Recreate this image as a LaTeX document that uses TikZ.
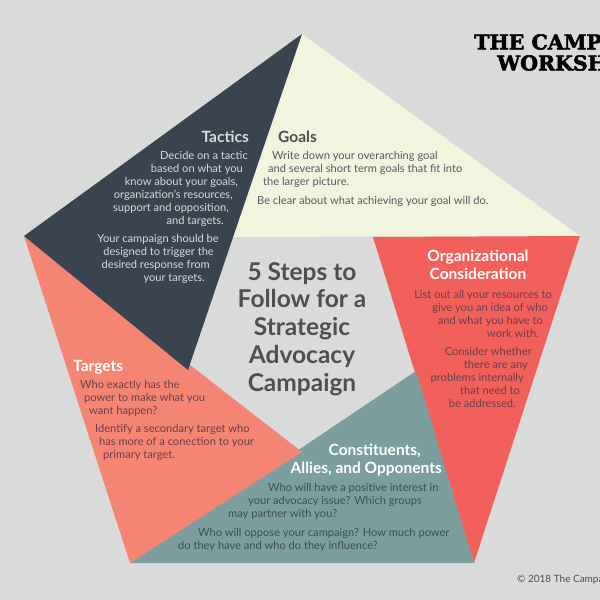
\documentclass[tikz,border=0pt]{standalone}
\usepackage{fontspec}
\setmainfont{Lato}
\newfontfamily\logofont[FakeBold=2.5]{DejaVu Serif}
\definecolor{cbg}{RGB}{217,219,219}
\definecolor{cgoals}{RGB}{241,245,222}
\definecolor{ctactics}{RGB}{58,67,80}
\definecolor{corg}{RGB}{242,96,91}
\definecolor{cteam}{RGB}{124,158,158}
\definecolor{ctargets}{RGB}{245,133,115}
\definecolor{ctext}{RGB}{77,79,80}
\definecolor{cgoalstext}{RGB}{84,90,98}
\definecolor{cwarm}{RGB}{108,62,76}
\definecolor{ccool}{RGB}{62,78,88}
\newcommand{\rind}[1]{\rule{#1}{0pt}}
\tikzset{
  heading/.style={inner sep=0pt,font=\fontsize{15.5}{18}\selectfont\bfseries},
  bodytext/.style={inner sep=0pt,font=\fontsize{11.1}{13}\selectfont},
  logotext/.style={inner sep=0pt,anchor=west,text=black,font=\logofont\fontsize{20.5}{22}\selectfont\bfseries},
}
\begin{document}
\begin{tikzpicture}[x=1pt,y=-1pt]
  \useasboundingbox (0,0) rectangle (600,600);
  \fill[cbg] (0,0) rectangle (600,600);

  \coordinate (top) at (302,34);
  \coordinate (left) at (24,236);
  \coordinate (right) at (580,236);
  \coordinate (botl) at (130,563);
  \coordinate (botr) at (474,563);
  \coordinate (ingoals) at (232,237);
  \coordinate (inorg) at (373,237);
  \coordinate (inteam) at (416,371);
  \coordinate (intargets) at (302,452);
  \coordinate (intactics) at (188,370);

  \fill[cgoals] (top) -- (right) -- (ingoals) -- cycle;
  \fill[corg] (right) -- (botr) -- (inorg) -- cycle;
  \fill[cteam] (botr) -- (botl) -- (inteam) -- cycle;
  \fill[ctargets] (botl) -- (left) -- (intargets) -- cycle;
  \fill[ctactics] (left) -- (top) -- (intactics) -- cycle;

  % tactics
  \node[heading,anchor=east,text=cbg] (tactics) at (249,137) {Tactics};
  \node[bodytext,anchor=north east,align=right,text=cbg] (tacticsa) at (248,151)
    {Decide on a tactic\\
     based on what you\rind{5pt}\\
     know about your goals,\rind{10pt}\\
     organization’s resources,\rind{15pt}\\
     support and opposition,\rind{19pt}\\
     and targets.\rind{24pt}};
  \node[bodytext,anchor=north east,align=right,text=cbg] (tacticsb) at (219,234)
    {Your campaign should be\\
     designed to trigger the\rind{5pt}\\
     desired response from\rind{9pt}\\
     your targets.\rind{14pt}};

  % goals
  \node[heading,anchor=west,text=ctext] (goals) at (278,137) {Goals};
  \node[bodytext,anchor=north west,align=left,text=cgoalstext] (goalsa) at (263,151)
    {\hspace*{9pt}Write down your overarching goal\\
     \hspace*{5pt}and several short term goals that fit into\\
     the larger picture.};
  \node[bodytext,anchor=north west,align=left,text=cgoalstext] (goalsb) at (257,196)
    {Be clear about what achieving your goal will do.};

  % organizational consideration
  \node[heading,anchor=north,align=center,text=white] (org) at (478,250)
    {Organizational\\Consideration};
  \node[bodytext,anchor=north east,align=right,text=cwarm] (orga) at (552,290)
    {List out all your resources to\\
     give you an idea of who\rind{4pt}\\
     and what you have to\rind{9pt}\\
     work with.\rind{13pt}};
  \node[bodytext,anchor=north east,align=right,text=cwarm] (orgb) at (532,347)
    {Consider whether\\
     there are any\rind{4pt}\\
     problems internally\rind{8pt}\\
     that need to\rind{12pt}\\
     be addressed.\rind{16pt}};

  % constituents
  \node[heading,anchor=north east,align=right,text=white] (team) at (442,444)
    {Constituents,\rind{21pt}\\Allies, and Opponents};
  \node[bodytext,anchor=north west,align=left,text=ccool] (teama) at (228,483)
    {\hspace*{40pt}Who will have a positive interest in\\
     \hspace*{20pt}your advocacy issue? Which groups\\
     may partner with you?};
  \node[bodytext,anchor=north west,align=left,text=ccool] (teamb) at (178,528)
    {\hspace*{20pt}Who will oppose your campaign? How much power\\
     do they have and who do they influence?};

  % targets
  \node[heading,anchor=west,text=white] (targets) at (73,367) {Targets};
  \node[bodytext,anchor=north west,align=left,text=cwarm] (targetsa) at (80,380)
    {Who exactly has the\\
     \hspace*{4pt}power to make what you\\
     \hspace*{9pt}want happen?};
  \node[bodytext,anchor=north west,align=left,text=cwarm] (targetsb) at (95,424)
    {Identify a secondary target who\\
     \hspace*{4pt}has more of a conection to your\\
     \hspace*{8pt}primary target.};

  % title
  \node[inner sep=0pt,anchor=north,align=center,text=ctext,
        font=\fontsize{24.5}{27.8}\selectfont\bfseries] (title) at (302,262)
    {5 Steps to\\Follow for a\\Strategic\\Advocacy\\Campaign};

  % logo and footer
  \node[logotext] (logoa) at (474,42) {THE CAMP};
  \node[logotext] (logob) at (497,63) {WORKSH};
  \node[inner sep=0pt,anchor=west,text=ctext,font=\fontsize{10}{11}\selectfont] (copyright) at (517,580) {© 2018 The Campa};
\end{tikzpicture}
\end{document}
